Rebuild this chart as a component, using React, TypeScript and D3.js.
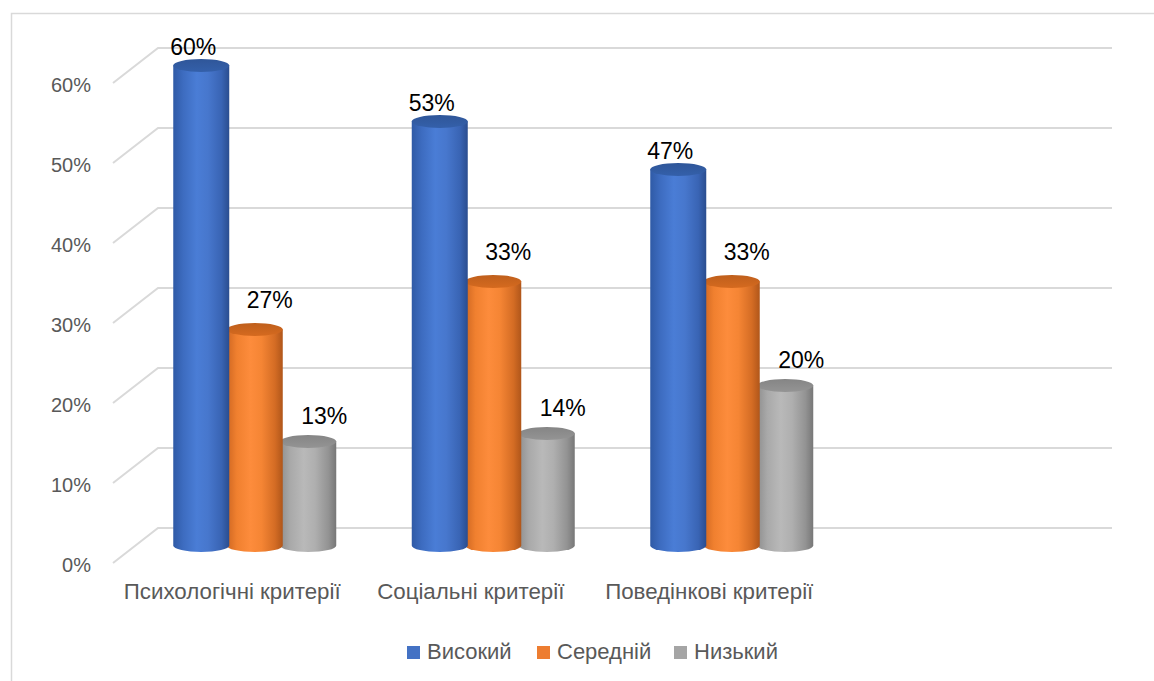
import React from "react";
import * as d3 from "d3";

const categories = ["Психологічні критерії", "Соціальні критерії", "Поведінкові критерії"];
const seriesNames = ["Високий", "Середній", "Низький"];
const high = [0.60, 0.53, 0.47];
const medium = [0.27, 0.33, 0.33];
const low = [0.13, 0.14, 0.20];
const yTicks = [0, 0.1, 0.2, 0.3, 0.4, 0.5, 0.6];

const seriesValues = [high, medium, low];

const W = 1154;
const H = 681;
const FONT = "'Liberation Sans', Arial, sans-serif";

// 3D layout
const frontX0 = 113;
const frontY0 = 563;
const depthDx = 45;
const depthDy = -35;
const slots = 4;
const wallWidth = 954;
const barDepth = 0.5;
const barStep = 53.5;
const barW = 56;
const ry = 6.5;

const palette = [
  { stops: ["#2f5aa6", "#3d6cc0", "#4a7dd6", "#4777cd", "#3964b4", "#2a4d8f"], top: "#2f5699", legend: "#4472C4" },
  { stops: ["#cf6722", "#f0802f", "#fd8c3c", "#f58534", "#d46c24", "#b0561a"], top: "#bf5f1c", legend: "#ED7D31" },
  { stops: ["#8f8f8f", "#a9a9a9", "#b9b9b9", "#afafaf", "#939393", "#777777"], top: "#858585", legend: "#A5A5A5" },
];
const stopOffsets = [0, 0.18, 0.42, 0.62, 0.86, 1];

const labelShift = [
  { dx: -8, gap: 4 },
  { dx: 15, gap: 15 },
  { dx: 16, gap: 11 },
];

export default function App() {
  const yFront = d3.scaleLinear().domain([0, 0.6]).range([frontY0, frontY0 - 480]);
  const xBand = d3
    .scaleBand<string>()
    .domain(categories)
    .range([frontX0, frontX0 + (wallWidth * categories.length) / slots])
    .paddingInner(0)
    .paddingOuter(0);
  const bw = xBand.bandwidth();
  const seriesIdx = d3.range(seriesNames.length);
  const rx = barW / 2;

  const barCx = (ci: number, si: number) =>
    (xBand(categories[ci]) as number) + bw / 2 + depthDx * barDepth + (si - (seriesNames.length - 1) / 2) * barStep;
  const barY = (v: number) => yFront(v) + depthDy * barDepth;

  const legendItems = [
    { x: 407, tx: 427 },
    { x: 537, tx: 557 },
    { x: 674, tx: 694 },
  ];

  return (
    <svg
      width={W}
      height={H}
      style={{ position: "absolute", left: 0, top: 0, background: "#fff" }}
      fontFamily={FONT}
    >
      <defs>
        {palette.map((p, i) => (
          <linearGradient key={i} id={`cyl${i}`} x1="0" x2="1" y1="0" y2="0">
            {p.stops.map((c, k) => (
              <stop key={k} offset={stopOffsets[k]} stopColor={c} />
            ))}
          </linearGradient>
        ))}
        {palette.map((p, i) => (
          <linearGradient key={`t${i}`} id={`top${i}`} x1="0" x2="0" y1="0" y2="1">
            <stop offset="0" stopColor={p.top} />
            <stop offset="1" stopColor={d3.color(p.top)!.brighter(0.3).formatHex()} />
          </linearGradient>
        ))}
      </defs>
      <rect x={0} y={0} width={W} height={H} fill="#fff" />
      <rect x={11.5} y={13.5} width={W + 20} height={H + 20} fill="none" stroke="#d9d9d9" strokeWidth={1.5} />

      {/* gridlines */}
      {yTicks.map((t) => {
        const yf = yFront(t);
        return (
          <polyline
            key={t}
            points={`${frontX0},${yf} ${frontX0 + depthDx},${yf + depthDy} ${frontX0 + depthDx + wallWidth},${yf + depthDy}`}
            fill="none"
            stroke="#d9d9d9"
            strokeWidth={2}
          />
        );
      })}

      {/* y tick labels */}
      {yTicks.map((t) => (
        <text
          key={`l${t}`}
          x={91}
          y={yFront(t) + 2}
          textAnchor="end"
          dominantBaseline="central"
          fontSize={20}
          fill="#595959"
        >
          {d3.format(".0%")(t)}
        </text>
      ))}

      {/* bars */}
      {categories.map((c, ci) =>
        [...seriesIdx].reverse().map((si) => {
          const v = seriesValues[si][ci];
          const cx = barCx(ci, si);
          const y0 = barY(0);
          const yt = barY(v);
          const d = `M${cx - rx},${yt} L${cx - rx},${y0} A${rx},${ry} 0 0 0 ${cx + rx},${y0} L${cx + rx},${yt} Z`;
          return (
            <g key={`${ci}-${si}`}>
              <path d={d} fill={`url(#cyl${si})`} />
              <ellipse cx={cx} cy={yt} rx={rx} ry={ry} fill={`url(#top${si})`} />
            </g>
          );
        })
      )}

      {/* data labels */}
      {categories.map((c, ci) =>
        seriesIdx.map((si) => {
          const v = seriesValues[si][ci];
          const cx = barCx(ci, si) + labelShift[si].dx;
          const yt = barY(v) - ry - labelShift[si].gap;
          return (
            <text key={`d${ci}-${si}`} x={cx} y={yt} textAnchor="middle" fontSize={23} fill="#000">
              {d3.format(".0%")(v)}
            </text>
          );
        })
      )}

      {/* category labels */}
      {categories.map((c) => (
        <text
          key={c}
          x={(xBand(c) as number) + bw / 2}
          y={599}
          textAnchor="middle"
          fontSize={22.3}
          fill="#595959"
        >
          {c}
        </text>
      ))}

      {/* legend */}
      {seriesNames.map((n, i) => (
        <g key={n}>
          <rect x={legendItems[i].x} y={646} width={13} height={13} fill={palette[i].legend} />
          <text x={legendItems[i].tx} y={659} fontSize={22} fill="#595959">
            {n}
          </text>
        </g>
      ))}
    </svg>
  );
}
